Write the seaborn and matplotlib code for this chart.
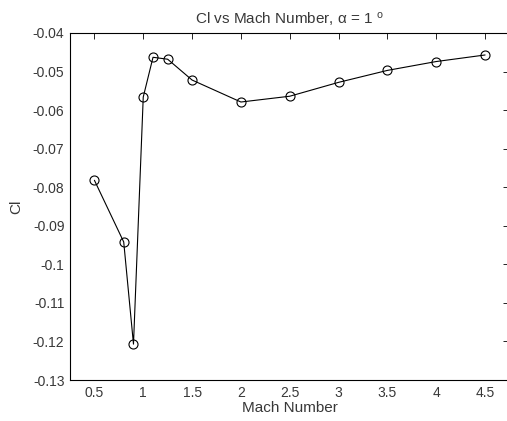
import matplotlib
matplotlib.use("Agg")
import matplotlib.pyplot as plt
import seaborn as sns
import pandas as pd

# Lift coefficient at alpha = 1 deg across Mach numbers
mach = [0.5, 0.8, 0.9, 1.0, 1.1, 1.25, 1.5, 2.0, 2.5, 3.0, 3.5, 4.0, 4.5]
cl = [-0.0782, -0.0942, -0.1207, -0.0566, -0.0463, -0.0468, -0.0522,
      -0.0579, -0.0564, -0.0528, -0.0497, -0.0474, -0.0457]

x_ticks = [0.5, 1, 1.5, 2, 2.5, 3, 3.5, 4, 4.5]
x_tick_labels = ["0.5", "1", "1.5", "2", "2.5", "3", "3.5", "4", "4.5"]
y_ticks = [-0.13, -0.12, -0.11, -0.10, -0.09, -0.08, -0.07, -0.06, -0.05, -0.04]
y_tick_labels = ["-0.13", "-0.12", "-0.11", "-0.1", "-0.09", "-0.08", "-0.07",
                 "-0.06", "-0.05", "-0.04"]

df = pd.DataFrame({"Mach": mach, "Cl": cl})

sns.set_style("white")
plt.rcParams["font.family"] = ["Liberation Sans", "DejaVu Sans"]
plt.rcParams["mathtext.fontset"] = "custom"
plt.rcParams["mathtext.rm"] = "Liberation Sans"
plt.rcParams["mathtext.it"] = "Liberation Sans:italic"

text_color = "#383838"

fig = plt.figure(figsize=(5.07, 4.21), dpi=100)
ax = fig.add_axes([70 / 507, 41 / 421, 439.5 / 507, 347 / 421])

sns.lineplot(data=df, x="Mach", y="Cl", ax=ax, color="black", linewidth=0.8,
             marker="o", markersize=6.5, markerfacecolor="none",
             markeredgecolor="black", markeredgewidth=0.8)

ax.set_xlim(0.25, 4.75)
ax.set_ylim(-0.13, -0.04)
ax.set_xticks(x_ticks)
ax.set_xticklabels(x_tick_labels)
ax.set_yticks(y_ticks)
ax.set_yticklabels(y_tick_labels)

ax.tick_params(direction="in", length=4, width=0.6, top=True, right=True,
               labelsize=10, colors="black", labelcolor=text_color, pad=4)
for side in ax.spines.values():
    side.set_visible(True)
    side.set_color("black")
    side.set_linewidth(0.8)

ax.set_xlabel("Mach Number", fontsize=11, color=text_color, labelpad=1)
ax.set_ylabel("Cl", fontsize=11, color=text_color, labelpad=7)
ax.set_title("Cl vs Mach Number, α = 1 $^{\\rm o}$", fontsize=11,
             color=text_color, pad=7)

fig.savefig("out.png", dpi=100)
